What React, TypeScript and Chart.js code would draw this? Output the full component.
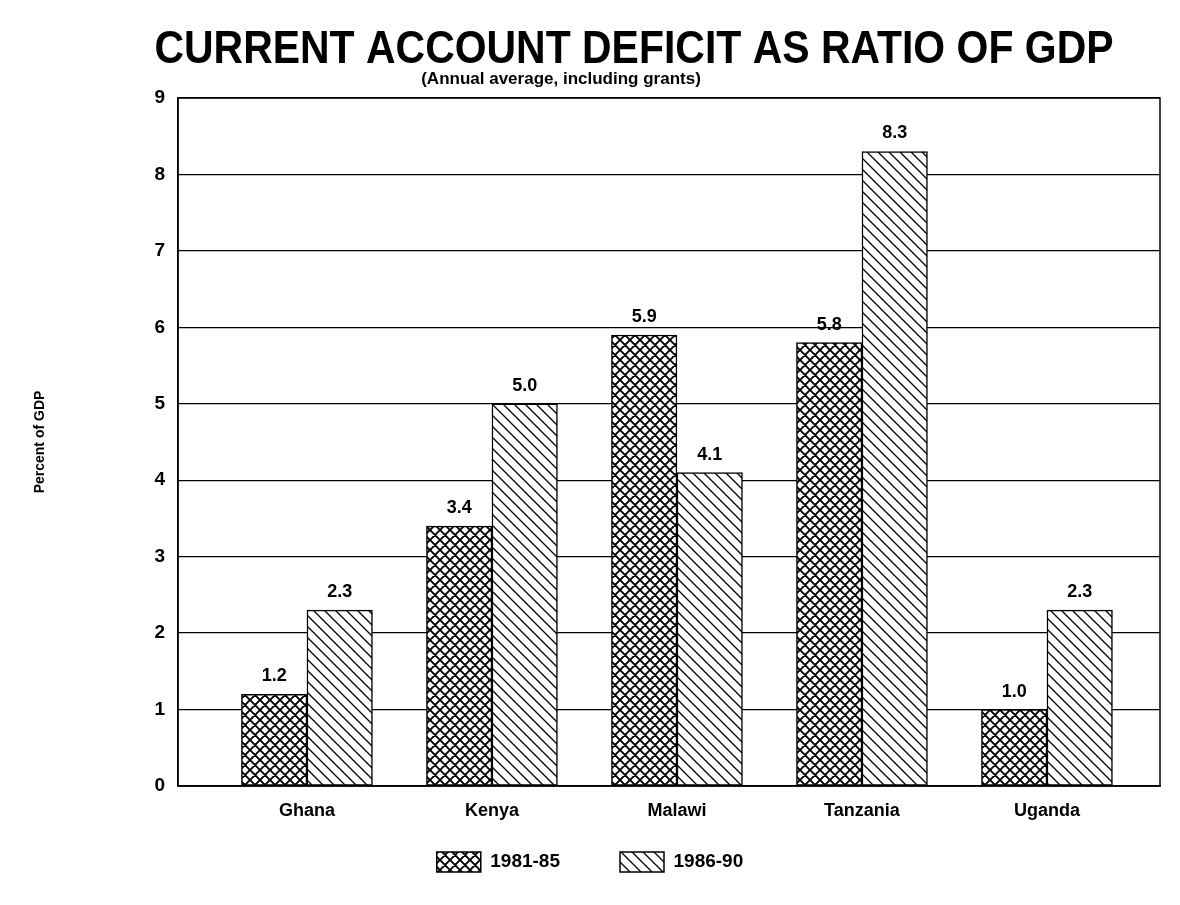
import React, { useEffect, useRef } from "react";
import { Chart, registerables } from "chart.js";

Chart.register(...registerables);

const categories = ["Ghana", "Kenya", "Malawi", "Tanzania", "Uganda"];
const seriesLabels = ["1981-85", "1986-90"];
const values1981to85 = [1.2, 3.4, 5.9, 5.8, 1.0];
const values1986to90 = [2.3, 5.0, 4.1, 8.3, 2.3];
const yMin = 0;
const yMax = 9;
const yStep = 1;
const titleText = "CURRENT ACCOUNT DEFICIT AS RATIO OF GDP";
const subtitleText = "(Annual average, including grants)";
const yAxisTitle = "Percent of GDP";

const FONT = '"Liberation Sans", Arial, Helvetica, sans-serif';

function makePattern(kind: "cross" | "diag"): CanvasPattern | string {
  const size = kind === "cross" ? 10 : 11;
  const c = document.createElement("canvas");
  c.width = size;
  c.height = size;
  const ctx = c.getContext("2d");
  if (!ctx) return "#fff";
  ctx.fillStyle = "#fff";
  ctx.fillRect(0, 0, size, size);
  ctx.strokeStyle = "#000";
  ctx.lineWidth = kind === "cross" ? 1.9 : 1.3;
  ctx.beginPath();
  for (const k of [-size, 0, size]) {
    ctx.moveTo(k - 1, -1);
    ctx.lineTo(k + size + 1, size + 1);
    if (kind === "cross") {
      ctx.moveTo(k - 1, size + 1);
      ctx.lineTo(k + size + 1, -1);
    }
  }
  ctx.stroke();
  return ctx.createPattern(c, "repeat") || "#fff";
}

const framePlugin = {
  id: "frame",
  beforeDatasetsDraw(chart: any) {
    const { ctx, chartArea } = chart;
    ctx.save();
    ctx.strokeStyle = "#000";
    ctx.lineWidth = 1.5;
    ctx.strokeRect(chartArea.left, chartArea.top, chartArea.right - chartArea.left, chartArea.bottom - chartArea.top);
    ctx.restore();
  },
};

const headingPlugin = {
  id: "headings",
  afterDraw(chart: any) {
    const { ctx } = chart;
    ctx.save();
    ctx.fillStyle = "#000";
    ctx.textAlign = "center";
    ctx.textBaseline = "alphabetic";
    ctx.save();
    ctx.translate(634, 63);
    ctx.scale(0.89, 1);
    ctx.font = `bold 46px ${FONT}`;
    ctx.fillText(titleText, 0, 0);
    ctx.restore();
    ctx.font = `bold 17px ${FONT}`;
    ctx.fillText(subtitleText, 561, 84);
    ctx.restore();
  },
};

const valueLabelPlugin = {
  id: "valueLabels",
  afterDatasetsDraw(chart: any) {
    const { ctx } = chart;
    ctx.save();
    ctx.fillStyle = "#000";
    ctx.textAlign = "center";
    ctx.textBaseline = "bottom";
    ctx.font = `bold 18px ${FONT}`;
    chart.data.datasets.forEach((ds: any, di: number) => {
      const meta = chart.getDatasetMeta(di);
      meta.data.forEach((bar: any, i: number) => {
        const v = ds.data[i].y as number;
        ctx.fillText(v.toFixed(1), bar.x, bar.y - 9);
      });
    });
    ctx.restore();
  },
};

export default function App() {
  const canvasRef = useRef<HTMLCanvasElement | null>(null);

  useEffect(() => {
    if (!canvasRef.current) return;
    const crossPattern = makePattern("cross");
    const diagPattern = makePattern("diag");

    const chart = new Chart(canvasRef.current, {
      type: "bar",
      data: {
        datasets: [
          {
            label: seriesLabels[0],
            data: values1981to85.map((v, i) => ({ x: i, y: v })),
            backgroundColor: crossPattern as any,
            borderColor: "#000",
            borderWidth: 1.5,
            borderSkipped: false,
            barThickness: 65.5,
          },
          {
            label: seriesLabels[1],
            data: values1986to90.map((v, i) => ({ x: i, y: v })),
            backgroundColor: diagPattern as any,
            borderColor: "#000",
            borderWidth: 1.5,
            borderSkipped: false,
            barThickness: 65.5,
          },
        ],
      },
      options: {
        animation: false,
        responsive: true,
        maintainAspectRatio: false,
        devicePixelRatio: 1,
        layout: { padding: { left: 20, right: 20, top: 98, bottom: 23 } },
        plugins: {
          title: { display: false },
          subtitle: { display: false },
          tooltip: { enabled: false },
          legend: {
            display: true,
            position: "bottom",
            labels: {
              boxWidth: 44,
              boxHeight: 20,
              padding: 60,
              color: "#000",
              font: { family: FONT, size: 19, weight: "bold" },
            },
          },
        },
        scales: {
          x: {
            type: "linear",
            offset: false,
            bounds: "data",
            min: -0.697,
            max: 4.611,
            afterBuildTicks: (scale: any) => {
              scale.ticks = categories.map((_, i) => ({ value: i }));
            },
            afterFit: (scale: any) => {
              scale.height = 6;
            },
            ticks: {
              autoSkip: false,
              maxRotation: 0,
              minRotation: 0,
              mirror: true,
              padding: -36,
              color: "#000",
              font: { family: FONT, size: 18, weight: "bold" },
              callback: (v: any) => {
                const n = Math.round(Number(v));
                return categories[n] !== undefined ? categories[n] : "";
              },
            },
            grid: { display: false, drawTicks: false, offset: false },
            border: { display: true, color: "#000", width: 1.5 },
          },
          y: {
            min: yMin,
            max: yMax,
            afterFit: (scale: any) => {
              scale.width = 158;
            },
            ticks: {
              stepSize: yStep,
              padding: 13,
              color: "#000",
              font: { family: FONT, size: 19, weight: "bold" },
            },
            grid: { color: "#000", lineWidth: 1.3, drawTicks: false },
            border: { display: true, color: "#000", width: 1.5 },
            title: {
              display: true,
              text: yAxisTitle,
              color: "#000",
              font: { family: FONT, size: 14, weight: "bold" },
              padding: { top: 12, bottom: 0 },
            },
          },
        },
      },
      plugins: [framePlugin, valueLabelPlugin, headingPlugin],
    });
    return () => chart.destroy();
  }, []);

  return (
    <div style={{ position: "fixed", left: 0, top: 0, width: 1180, height: 905, background: "#fff" }}>
      <canvas ref={canvasRef} />
    </div>
  );
}
